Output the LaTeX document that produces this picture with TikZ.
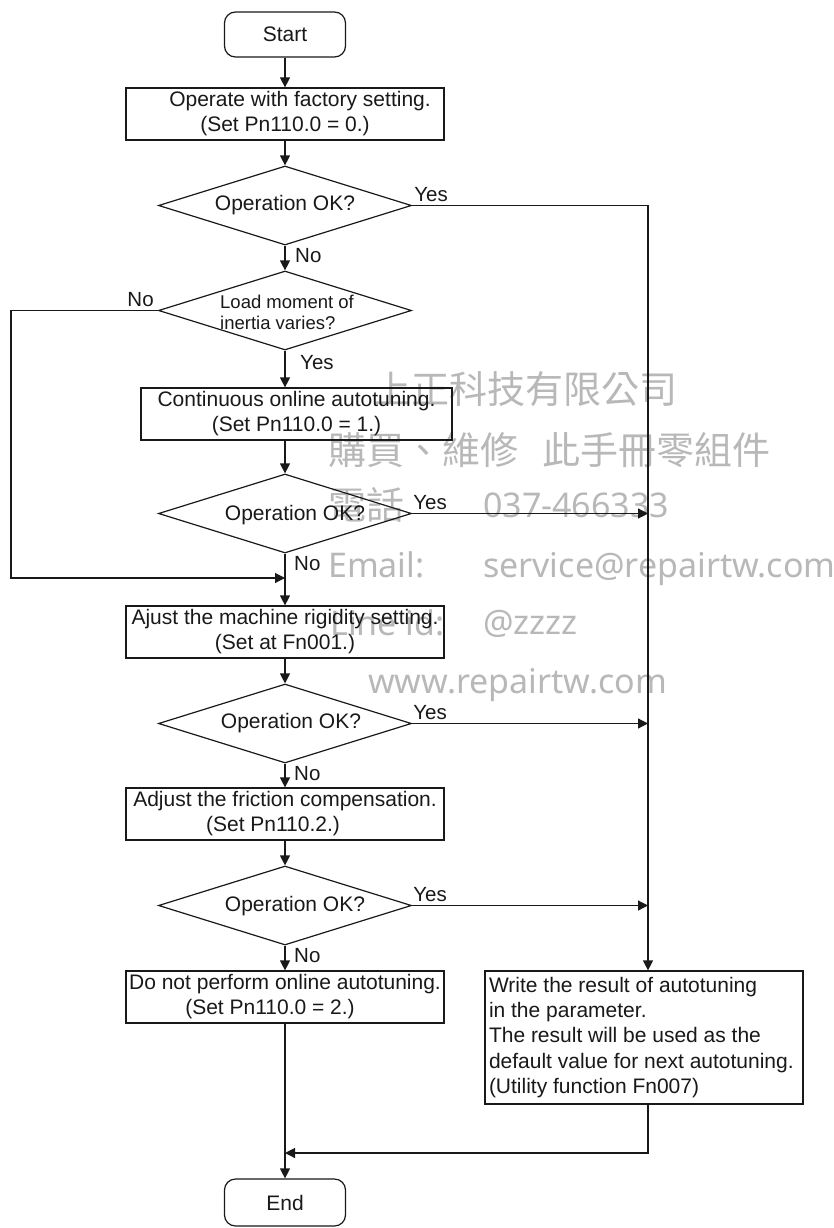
\documentclass[tikz,border=0pt]{standalone}
\usepackage{fontspec}
\setmainfont{Liberation Sans}
\newfontfamily\wmcjk{Noto Sans CJK TC}
\newfontfamily\wmlat{Noto Sans}
\usetikzlibrary{shapes.geometric,arrows.meta,calc}
\begin{document}
\begin{tikzpicture}[x=1pt,y=-1pt,
  every node/.style={text=black!90},
  ln/.style={line width=1.2pt, draw=black!90},
  arr/.style={ln, -{Triangle[length=10pt,width=10pt]}},
  boxn/.style={draw=black!90, line width=1.2pt, rectangle, inner sep=0pt, minimum height=52pt, align=center, font=\fontsize{21}{25}\selectfont},
  term/.style={draw=black!90, line width=1.2pt, rectangle, rounded corners=11pt, minimum width=121pt, minimum height=45pt, inner sep=0pt, font=\fontsize{21}{25}\selectfont},
  dia/.style={draw=black!90, line width=1.2pt, diamond, minimum width=253pt, minimum height=79pt, inner sep=0pt},
  dtext/.style={font=\fontsize{21}{25}\selectfont, inner sep=0pt},
  lbl/.style={font=\fontsize{20.5}{24}\selectfont, inner sep=0pt},
  wm/.style={text=black!28, inner sep=0pt},
  wmc/.style={wm, font=\wmcjk\fontsize{38}{40}\selectfont, anchor=west},
  wml/.style={wm, font=\wmlat\fontsize{34}{40}\selectfont, anchor=base west},
]
\fill[white] (0,0) rectangle (834,1228);
\useasboundingbox (0,0) rectangle (834,1228);

% watermark
\node[wmc] (w1) at (373,389) {上正科技有限公司};
\node[wmc] (w2) at (328,450) {購買、維修\hspace{24pt}此手冊零組件};
\node[wmc] (w3) at (328,505) {電話};
\node[wml] (w4) at (483,517) {037-466333};
\node[wml] (w5) at (328,577) {Email:};
\node[wml] (w6) at (483,577) {service@repairtw.com};
\node[wml] (w7) at (330,635) {Line id:};
\node[wml] (w8) at (483,634) {@zzzz};
\node[wml] (w9) at (368,693) {www.repairtw.com};

% nodes
\node[term] (start) at (285,34.5) {Start};
\node[boxn, minimum width=318pt] (b1) at (285,114) {\hspace*{30pt}Operate with factory setting.\\(Set Pn110.0 = 0.)};
\node[dia] (d1) at (285,205.5) {};
\node[dtext] (t1) at (d1) {Operation OK?};
\node[dia] (d2) at (285,310.5) {};
\node[font=\fontsize{18.5}{21}\selectfont, inner sep=0pt, align=left, anchor=west] (t2) at ($(d2.center)+(-65,2)$) {Load moment of\\inertia varies?};
\node[boxn, minimum width=311pt] (b2) at (296.5,414) {Continuous online autotuning.\\(Set Pn110.0 = 1.)};
\node[dia] (d3) at (285,513.5) {};
\node[dtext] (t3) at ($(d3)+(10,2)$) {Operation OK?};
\node[boxn, minimum width=318pt] (b3) at (285,632) {Ajust the machine rigidity setting.\\(Set at Fn001.)};
\node[dia] (d4) at (285,723.5) {};
\node[dtext] (t4) at ($(d4)+(6,0)$) {Operation OK?};
\node[boxn, minimum width=318pt] (b4) at (285,814) {Adjust the friction compensation.\\(Set Pn110.2.)\hspace*{24pt}};
\node[dia] (d5) at (285,905.5) {};
\node[dtext] (t5) at ($(d5)+(10,1)$) {Operation OK?};
\node[boxn, minimum width=318pt] (b5) at (285,997) {Do not perform online autotuning.\\(Set Pn110.0 = 2.)\hspace*{30pt}};
\node[boxn, minimum width=318pt, minimum height=133pt, text width=310pt, align=flush left, inner xsep=4pt, font=\fontsize{21}{25.3}\selectfont] (rb) at (644,1037.5) {Write the result of autotuning\\in the parameter.\\The result will be used as the\\default value for next autotuning.\\(Utility function Fn007)};
\node[term, minimum height=47pt] (end) at (285,1202.5) {End};

% helper coordinates
\coordinate (rt) at ($(rb.north)+(4,0)$);
\coordinate (rbot) at ($(rb.south)+(4,0)$);
\coordinate (merge) at (285,1153);
\coordinate (lc) at (11,578);
\coordinate (join) at (285,578);

% connectors
\draw[arr] (start) -- (b1);
\draw[arr] (b1) -- (d1);
\draw[arr] (d1) -- (d2);
\draw[arr] (d2.south) -- (d2.south |- b2.north);
\draw[arr] (d2.south |- b2.south) -- (d3.north);
\draw[arr] (d3) -- (b3);
\draw[arr] (b3) -- (d4);
\draw[arr] (d4) -- (b4);
\draw[arr] (b4) -- (d5);
\draw[arr] (d5) -- (b5);
\draw[arr] (b5) -- (end);
\draw[arr] (d1.east) -| (rt);
\draw[arr] (d3.east) -- (d3.east -| rt);
\draw[arr] (d4.east) -- (d4.east -| rt);
\draw[arr] (d5.east) -- (d5.east -| rt);
\draw[arr] (rbot) |- (merge);
\draw[arr] (d2.west) -| (lc) -- (join);

% labels
\node[lbl, anchor=base west] (y1) at ($(d1.east)+(2,-4)$) {Yes};
\node[lbl, anchor=base west] (n1) at ($(d1.south)+(10,17)$) {No};
\node[lbl, anchor=base east] (n2) at ($(d2.west)+(-4,-4)$) {No};
\node[lbl, anchor=base west] (y2) at ($(d2.south)+(15,19)$) {Yes};
\node[lbl, anchor=base west] (y3) at ($(d3.east)+(1,-4)$) {Yes};
\node[lbl, anchor=base west] (n3) at ($(d3.south)+(9,17)$) {No};
\node[lbl, anchor=base west] (y4) at ($(d4.east)+(1,-4)$) {Yes};
\node[lbl, anchor=base west] (n4) at ($(d4.south)+(9,17)$) {No};
\node[lbl, anchor=base west] (y5) at ($(d5.east)+(1,-4)$) {Yes};
\node[lbl, anchor=base west] (n5) at ($(d5.south)+(9,17)$) {No};
\end{tikzpicture}
\end{document}
